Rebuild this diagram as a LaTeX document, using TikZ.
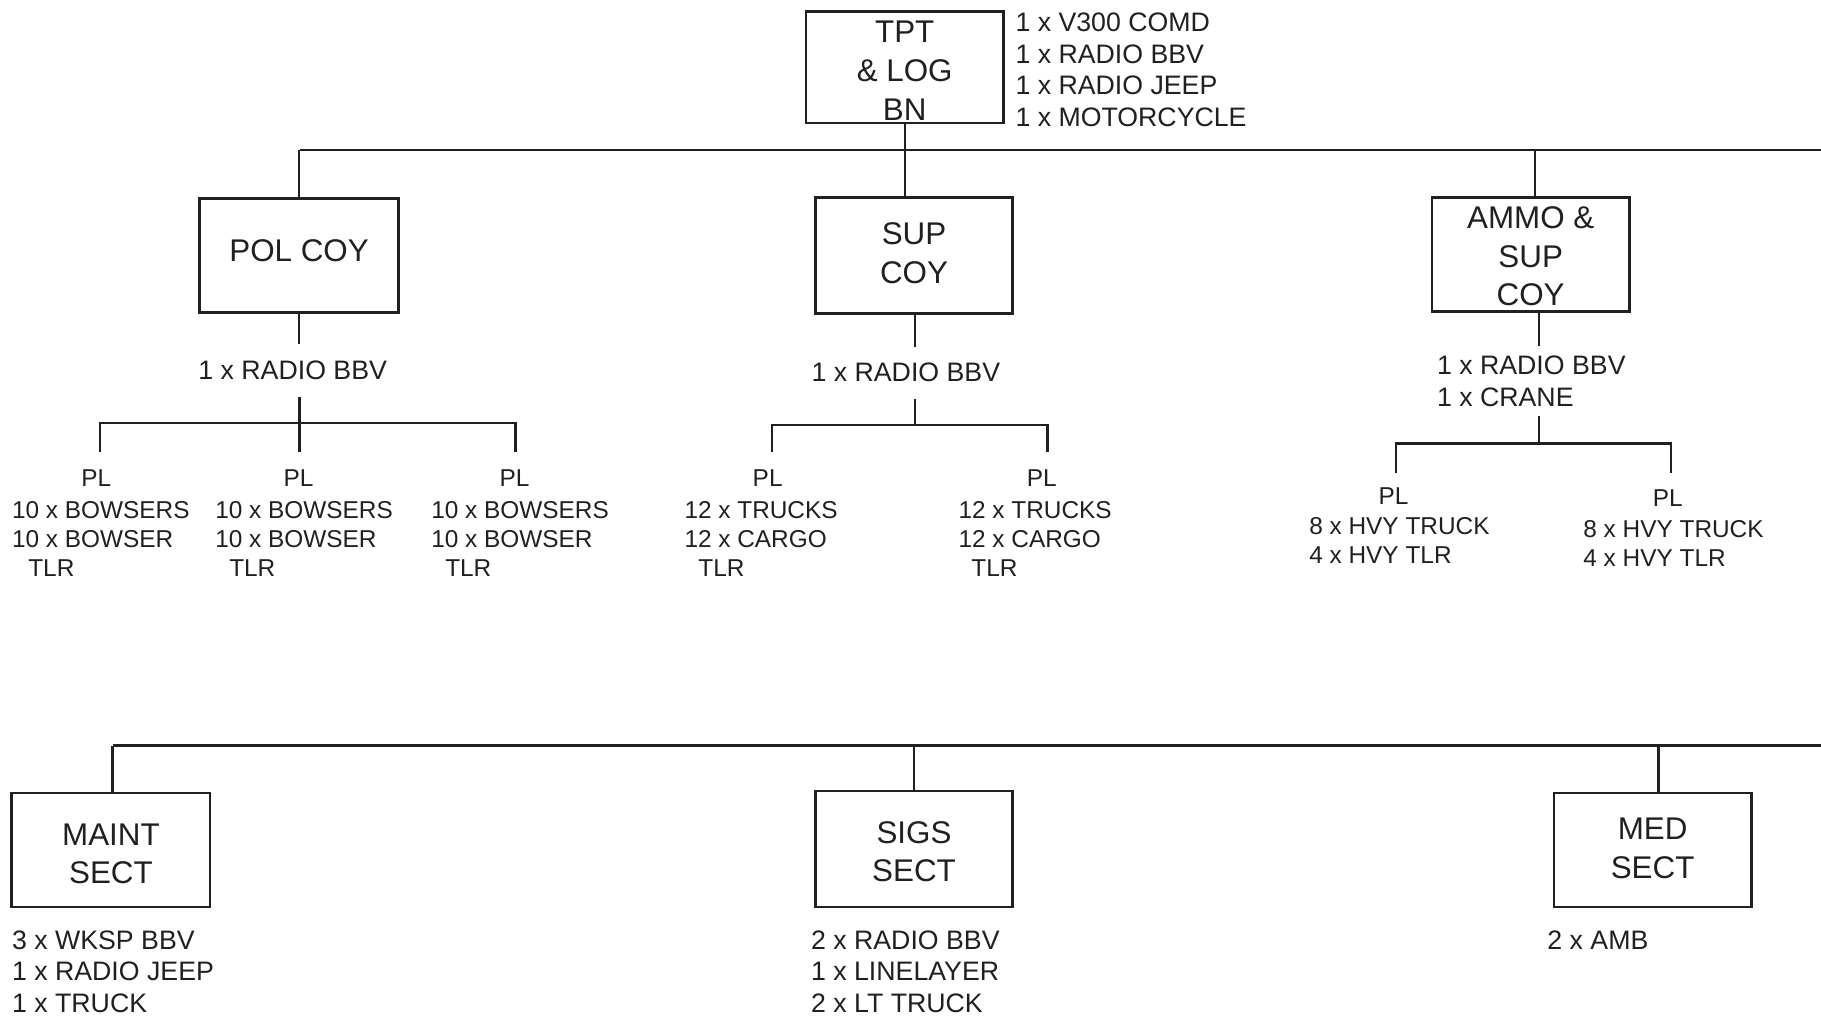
\documentclass[tikz,border=0pt]{standalone}
\usepackage{fontspec}
\setmainfont{Liberation Sans}
\definecolor{ink}{RGB}{35,31,32}
\newcommand\bxfont{\fontsize{13.5}{16.5}\selectfont}
\newcommand\lbfont{\fontsize{11.5}{13.65}\selectfont}
\newcommand\plfont{\fontsize{10.5}{12.5}\selectfont}
\newcommand\upby[1]{\rule[-#1]{0pt}{#1}}
\newcommand\downby[1]{\rule{0pt}{#1}}
\begin{document}
\begin{tikzpicture}[x=0.5pt,y=-0.5pt,
  unitbox/.style={draw=ink, line width=1.1pt, minimum width=85pt, minimum height=49pt, inner sep=0pt, align=center, font=\bxfont, text=ink},
  lbl/.style={inner sep=0pt, align=left, font=\lbfont, text=ink},
  plhead/.style={inner xsep=0pt, inner ysep=7.75pt, font=\plfont, text=ink},
  plist/.style={inner sep=0pt, align=left, font=\plfont, text=ink, anchor=north west},
  conn/.style={draw=ink, line width=1pt}]
\useasboundingbox (0,0) rectangle (1568,876);

% ---------------- top level ----------------
\node[unitbox, minimum height=48pt, font=\fontsize{13.5}{16.6}\selectfont] (tpt) at (779,58) {\downby{12.2pt}TPT\\\& LOG\\BN};
\node[lbl, anchor=north west] (tptl) at (874,10.7) {1 x V300 COMD\\1 x RADIO BBV\\1 x RADIO JEEP\\1 x MOTORCYCLE};

\coordinate (topL) at (258,129);
\coordinate (topR) at (1568,129);
\node[unitbox, minimum width=85.5pt] (pol) at (257.5,220) {POL COY\upby{4pt}};
\node[unitbox, minimum height=50pt] (sup) at (787,220) {SUP\\COY\upby{2pt}};
\node[unitbox] (ammo) at (1318,219) {\downby{11.2pt}AMMO \&\\SUP\\COY};

\draw[conn] (topL) -- (topR);
\draw[conn] (pol.north) -- (pol.north |- topL);
\draw[conn] (tpt.south) -- (tpt.south |- sup.north);
\draw[conn] ([xshift=2pt]ammo.north) -- ([xshift=2pt]ammo.north |- topL);

% ---------------- POL COY ----------------
\node[lbl, inner ysep=7pt] (polr) at (252,319) {1 x RADIO BBV};
\coordinate (pb1) at (86,364);
\coordinate (pb2) at (258,364);
\coordinate (pb3) at (444,364);
\node[plhead] (pl1) at (83,412) {PL};
\node[plhead] (pl2) at (257,412) {PL};
\node[plhead] (pl3) at (443,412) {PL};
\draw[conn] (pol.south) -- (pol.south |- polr.north);
\draw[conn] (pb2 |- polr.south) -- (pb2 |- pl2.north);
\draw[conn] (pb1 |- pl1.north) -- (pb1) -- (pb3) -- (pb3 |- pl3.north);
\node[plist] (pll1) at (10,431.5) {10 x BOWSERS\\10 x BOWSER\\\hspace*{7pt}TLR};
\node[plist] (pll2) at (185,431.5) {10 x BOWSERS\\10 x BOWSER\\\hspace*{6pt}TLR};
\node[plist] (pll3) at (371,431.5) {10 x BOWSERS\\10 x BOWSER\\\hspace*{6pt}TLR};

% ---------------- SUP COY ----------------
\node[lbl, inner ysep=7pt] (supr) at (780,321) {1 x RADIO BBV};
\coordinate (supbus) at (788,366);
\coordinate (sb1) at (665,366);
\coordinate (sb2) at (902,366);
\node[plhead] (spl1) at (661,412) {PL};
\node[plhead] (spl2) at (897,412) {PL};
\draw[conn] (supbus |- sup.south) -- (supbus |- supr.north);
\draw[conn] (supbus |- supr.south) -- (supbus);
\draw[conn] (sb1 |- spl1.north) -- (sb1) -- (sb2) -- (sb2 |- spl2.north);
\node[plist] (spll1) at (589,431.5) {12 x TRUCKS\\12 x CARGO\\\hspace*{6pt}TLR};
\node[plist] (spll2) at (825,431.5) {12 x TRUCKS\\12 x CARGO\\\hspace*{5.5pt}TLR};

% ---------------- AMMO & SUP COY ----------------
\coordinate (ammobus) at (1325,382);
\coordinate (ab1) at (1202,382);
\coordinate (ab2) at (1439,382);
\node[lbl, anchor=north west, inner ysep=4pt] (ammor) at (1237,298) {1 x RADIO BBV\\1 x CRANE};
\draw[conn] (ammobus |- ammo.south) -- (ammobus |- ammor.north);
\draw[conn] (ammobus |- ammor.south) -- (ammobus);
\node[plhead, inner ysep=6.25pt] (apl1) at (1200,427) {PL};
\node[plhead, inner ysep=7.25pt] (apl2) at (1436,429) {PL};
\draw[conn] (ab1 |- apl1.north) -- (ab1) -- (ab2) -- (ab2 |- apl2.north);
\node[plist] (apll1) at (1127,445.5) {8 x HVY TRUCK\\4 x HVY TLR};
\node[plist] (apll2) at (1363,447.5) {8 x HVY TRUCK\\4 x HVY TLR};

% ---------------- bottom row ----------------
\coordinate (botL) at (97,642);
\coordinate (botR) at (1568,642);
\node[unitbox, minimum width=85.5pt] (maint) at (95.5,732) {\downby{12.7pt}MAINT\\SECT};
\node[unitbox, minimum height=50pt] (sigs) at (787,731) {\downby{11.7pt}SIGS\\SECT};
\node[unitbox] (med) at (1423,732) {MED\\SECT\upby{1.5pt}};
\draw[conn] (botL) -- (botR);
\draw[conn] (botL) -- (botL |- maint.north);
\draw[conn] (sigs.north) -- (sigs.north |- botL);
\draw[conn] ([xshift=2.5pt]med.north) -- ([xshift=2.5pt]med.north |- botL);

\node[lbl, anchor=north west, font=\fontsize{11.5}{13.75}\selectfont] (maintl) at (10,800.7) {3 x WKSP BBV\\1 x RADIO JEEP\\1 x TRUCK};
\node[lbl, anchor=north west, font=\fontsize{11.5}{13.75}\selectfont] (sigsl) at (698,800.7) {2 x RADIO BBV\\1 x LINELAYER\\2 x LT TRUCK};
\node[lbl, anchor=north west, font=\fontsize{11.5}{13.75}\selectfont] (medl) at (1332,800.7) {2 x AMB};
\end{tikzpicture}
\end{document}
